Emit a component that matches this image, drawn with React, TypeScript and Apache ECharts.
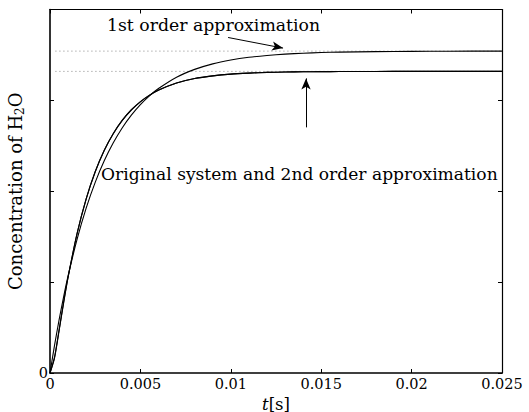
import React, { useEffect, useRef } from "react";
import * as echarts from "echarts";

const tValues = [0, 0.00025, 0.0005, 0.00075, 0.001, 0.0015, 0.002, 0.0025, 0.003, 0.0035, 0.004, 0.0045, 0.005, 0.0055, 0.006, 0.007, 0.008, 0.009, 0.01, 0.011, 0.012, 0.013, 0.014, 0.015, 0.016, 0.018, 0.02, 0.022, 0.025];
const firstOrder = [0, 0.304, 0.582, 0.836, 1.068, 1.474, 1.814, 2.098, 2.335, 2.533, 2.699, 2.837, 2.953, 3.05, 3.13, 3.255, 3.341, 3.402, 3.444, 3.474, 3.494, 3.509, 3.519, 3.526, 3.531, 3.536, 3.539, 3.541, 3.542];
const originalSystem = [0, 0.164, 0.461, 0.767, 1.051, 1.534, 1.915, 2.215, 2.451, 2.636, 2.782, 2.897, 2.987, 3.058, 3.114, 3.192, 3.241, 3.27, 3.289, 3.3, 3.308, 3.312, 3.315, 3.316, 3.317, 3.318, 3.319, 3.319, 3.319];
const secondOrder = [0, 0.175, 0.472, 0.776, 1.058, 1.538, 1.916, 2.214, 2.449, 2.633, 2.779, 2.894, 2.984, 3.055, 3.112, 3.191, 3.241, 3.27, 3.289, 3.3, 3.308, 3.312, 3.315, 3.316, 3.317, 3.318, 3.319, 3.319, 3.319];
const steadyLevels = [3.542, 3.319];
const steadyStart = 0.0003;
const xTickLabels = ["0", "0.005", "0.01", "0.015", "0.02", "0.025"];
const yTickLabels = ["0", "", "", "", ""];
const arrowFirst = [[0.00985, 3.692], [0.01289, 3.575]];
const arrowSecond = [[0.01416, 2.703], [0.01416, 3.242]];
const labelFirst = "1st order approximation";
const labelSecond = "Original system and 2nd order approximation";

const FONT = "DejaVu Serif";

export default function App() {
  const ref = useRef<HTMLDivElement>(null);
  useEffect(() => {
    if (!ref.current) return;
    const chart = echarts.init(ref.current, null, { renderer: "svg" });
    const pair = (ys: number[]) => tValues.map((t, i) => [t, ys[i]]);
    const xMax = tValues[tValues.length - 1];
    const common = {
      min: 0,
      splitLine: { show: false },
    };
    const curve = (ys: number[]) => ({
      type: "line",
      data: pair(ys),
      symbol: "none",
      smooth: 0.25,
      lineStyle: { color: "#000", width: 1.1 },
      z: 3,
    });
    chart.setOption({
      animation: false,
      backgroundColor: "#fff",
      textStyle: { fontFamily: FONT },
      grid: { left: 50, right: 27, top: 9.5, bottom: 39, containLabel: false, outerBoundsMode: "none" },
      xAxis: [
        {
          ...common,
          type: "value",
          max: 0.025,
          interval: 0.005,
          position: "bottom",
          axisLine: { lineStyle: { color: "#000", width: 1.6 } },
          axisTick: { inside: true, length: 4, lineStyle: { color: "#000" } },
          axisLabel: {
            color: "#000",
            fontFamily: FONT,
            fontSize: 14.5,
            margin: 3,
            hideOverlap: false,
            formatter: (v: number) => xTickLabels[Math.round(v / 0.005)] ?? "",
          },
          name: "{i|t}[s]",
          nameLocation: "middle",
          nameGap: 15,
          nameTextStyle: {
            color: "#000",
            fontFamily: FONT,
            fontSize: 16.5,
            lineHeight: 18,
            rich: { i: { fontFamily: FONT, fontSize: 16.5, lineHeight: 18, fontStyle: "italic", color: "#000" } },
          },
        },
        {
          ...common,
          type: "value",
          max: 0.025,
          interval: 0.005,
          position: "top",
          axisLine: { onZero: false, lineStyle: { color: "#000", width: 1.2 } },
          axisTick: { inside: true, length: 4, lineStyle: { color: "#000" } },
          axisLabel: { show: false },
        },
      ],
      yAxis: [
        {
          ...common,
          type: "value",
          max: 4,
          interval: 1,
          position: "left",
          axisLine: { show: true, lineStyle: { color: "#000", width: 1.6 } },
          axisTick: { show: true, inside: true, length: 4, lineStyle: { color: "#000" } },
          axisLabel: {
            color: "#000",
            fontFamily: FONT,
            fontSize: 14.5,
            margin: 2,
            hideOverlap: false,
            formatter: (v: number) => yTickLabels[Math.round(v)] ?? "",
          },
          name: "Concentration of H{s|2}O",
          nameLocation: "middle",
          nameGap: 24,
          nameTextStyle: {
            color: "#000",
            fontFamily: FONT,
            fontSize: 18,
            rich: {
              s: { fontFamily: FONT, fontSize: 12, color: "#000", padding: [10, 0, 0, 0] },
            },
          },
        },
        {
          ...common,
          type: "value",
          max: 4,
          interval: 1,
          position: "right",
          axisLine: { show: true, onZero: false, lineStyle: { color: "#000", width: 1.2 } },
          axisTick: { show: true, inside: true, length: 4, lineStyle: { color: "#000" } },
          axisLabel: { show: false },
        },
      ],
      series: [
        {
          type: "line",
          data: [[steadyStart, steadyLevels[0]], [xMax, steadyLevels[0]]],
          symbol: "none",
          lineStyle: { color: "#888", width: 1, type: [1, 3] },
          z: 1,
          silent: true,
          markLine: {
            silent: true,
            symbol: ["none", "arrow"],
            symbolSize: [7, 11],
            label: { show: false },
            lineStyle: { color: "#000", width: 1, type: "solid" },
            data: [
              [{ coord: arrowFirst[0] }, { coord: arrowFirst[1] }],
              [{ coord: arrowSecond[0] }, { coord: arrowSecond[1] }],
            ],
          },
        },
        {
          type: "line",
          data: [[steadyStart, steadyLevels[1]], [xMax, steadyLevels[1]]],
          symbol: "none",
          lineStyle: { color: "#888", width: 1, type: [1, 3] },
          z: 1,
          silent: true,
        },
        curve(firstOrder),
        curve(originalSystem),
        curve(secondOrder),
      ],
      graphic: [
        {
          type: "text",
          x: 107,
          y: 25,
          z: 10,
          style: { text: labelFirst, fill: "#000", fontSize: 17.3, fontFamily: FONT, verticalAlign: "middle", align: "left" },
        },
        {
          type: "text",
          x: 101,
          y: 174,
          z: 10,
          style: { text: labelSecond, fill: "#000", fontSize: 17.1, fontFamily: FONT, verticalAlign: "middle", align: "left" },
        },
      ],
    });
    return () => chart.dispose();
  }, []);
  return (
    <div
      ref={ref}
      style={{ position: "fixed", left: 0, top: 0, width: 529, height: 412, background: "#fff" }}
    />
  );
}
